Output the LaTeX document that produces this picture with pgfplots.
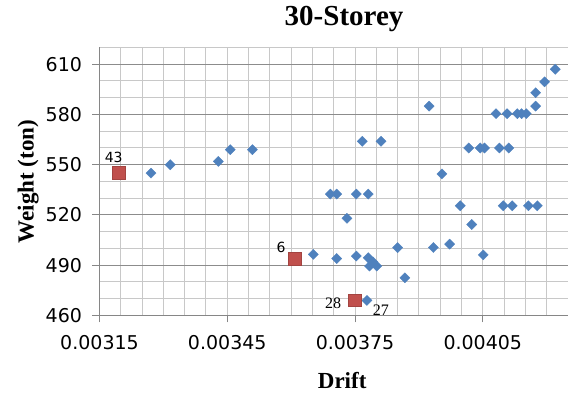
\documentclass[border=0pt]{standalone}
\usepackage{pgfplots}
\pgfplotsset{compat=1.18}
\usepackage{fontspec}
\setmainfont{Liberation Serif}
\newfontfamily\dejavu{DejaVu Sans}
\definecolor{exblue}{HTML}{4F81BD}
\definecolor{exred}{HTML}{C0504D}
\definecolor{gridminor}{HTML}{C8C8C8}
\definecolor{gridmajor}{HTML}{8C8C8C}
\definecolor{axisgray}{HTML}{868686}

\pgfplotstableread{
x y
0.003271 545
0.003316 550
0.003429 552
0.003457 559
0.003509 559
0.003767 564
0.003811 564
0.003692 532.5
0.003707 532.5
0.003753 532.5
0.003781 532.5
0.003731 518
0.003652 496.5
0.003707 494
0.003753 495.5
0.003781 494.5
0.003784 489.5
0.003792 492
0.003801 489.5
0.003850 500.5
0.003867 482.5
0.003924 585
0.003954 544.5
0.004017 560
0.004044 560
0.004054 560
0.004089 560
0.004111 560
0.004081 580.5
0.004107 580.5
0.004131 580.5
0.004141 580.5
0.004152 580.5
0.004174 585
0.004174 593
0.004195 599.5
0.004220 607
0.003997 525.5
0.004098 525.5
0.004119 525.5
0.004157 525.5
0.004178 525.5
0.004024 514.3
0.003934 500.6
0.003972 502.6
0.004051 496.2
}\bluedata

\begin{document}
\begin{tikzpicture}
\begin{axis}[
  scale only axis, width=468.5pt, height=268pt,
  xmin=0.00315, xmax=0.00425, ymin=460, ymax=620,
  axis x line*=bottom, axis y line*=left,
  axis line style={-, axisgray, line width=1pt},
  scaled x ticks=false, scaled y ticks=false,
  xtick={0.00315,0.00345,0.00375,0.00405},
  xticklabels={0.00315,0.00345,0.00375,0.00405},
  ytick={460,490,520,550,580,610},
  yticklabels={460,490,520,550,580,610},
  minor xtick={0.00315,0.0032,0.00325,0.0033,0.00335,0.0034,0.00345,0.0035,0.00355,0.0036,0.00365,0.0037,0.00375,0.0038,0.00385,0.0039,0.00395,0.004,0.00405,0.0041,0.00415,0.0042,0.00425},
  minor ytick={470,480,500,510,530,540,560,570,590,600,620},
  tick align=outside, major tick length=7pt, minor tick length=0pt,
  tick style={axisgray, line width=1pt},
  xminorgrids, ymajorgrids, yminorgrids,
  major grid style={gridmajor, line width=1pt},
  minor grid style={gridminor, line width=1pt},
  /pgf/number format/assume math mode=true,
  ticklabel style={font=\dejavu\fontsize{19}{19}\selectfont},
  xticklabel style={yshift=-9pt},
  yticklabel style={xshift=-7pt},
  title={30-Storey},
  title style={font=\bfseries\fontsize{29}{29}\selectfont, at={(axis description cs:0.522,1.058)}, anchor=base},
  xlabel={Drift},
  xlabel style={font=\bfseries\fontsize{23}{23}\selectfont, at={(axis description cs:0.518,-0.272)}, anchor=base},
  ylabel={Weight (ton)},
  ylabel style={font=\bfseries\fontsize{23}{23}\selectfont, at={(axis description cs:-0.152,0.5)}, anchor=center},
  clip=false,
]
\addplot[only marks, mark=square*, mark size=3.6pt, mark options={rotate=45, fill=exblue, draw=exblue, line width=0.3pt}] table[x=x, y=y] {\bluedata};
\addplot[only marks, mark=square*, mark size=3.6pt, mark options={rotate=45, fill=exblue, draw=exblue, line width=0.3pt},
  nodes near coords={27}, nodes near coords style={font=\fontsize{16}{16}\selectfont, anchor=center, xshift=14pt, yshift=-10pt}] coordinates {(0.003778,469)};
\addplot[only marks, mark=square*, mark size=6.3pt, mark options={fill=exred, draw=exred!85!black, line width=0.5pt},
  nodes near coords={43}, nodes near coords style={font=\dejavu\fontsize{14}{14}\selectfont, anchor=center, xshift=-5pt, yshift=14.7pt}] coordinates {(0.003195,545.4)};
\addplot[only marks, mark=square*, mark size=6.3pt, mark options={fill=exred, draw=exred!85!black, line width=0.5pt},
  nodes near coords={6}, nodes near coords style={font=\dejavu\fontsize{14}{14}\selectfont, anchor=center, xshift=-14pt, yshift=10.7pt}] coordinates {(0.003609,494)};
\addplot[only marks, mark=square*, mark size=6.3pt, mark options={fill=exred, draw=exred!85!black, line width=0.5pt},
  nodes near coords={28}, nodes near coords style={font=\fontsize{16}{16}\selectfont, anchor=center, xshift=-22pt, yshift=-3pt}] coordinates {(0.003750,469)};
\end{axis}
\pgfresetboundingbox
\path[use as bounding box] (-99.5pt,-80.5pt) rectangle (468.5pt,315.5pt);
\end{tikzpicture}
\end{document}
